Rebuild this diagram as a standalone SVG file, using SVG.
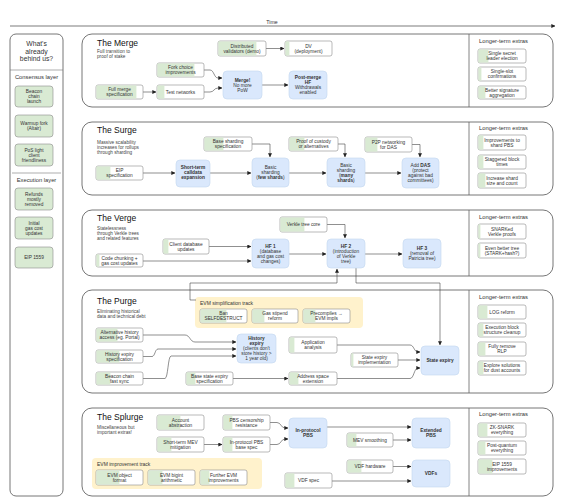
<svg xmlns="http://www.w3.org/2000/svg" width="570" height="503" viewBox="0 0 570 503">
<style>
text{font-family:"Liberation Sans",Arial,sans-serif;fill:#333}
.t{font-size:4.8px;text-anchor:middle}
.tb{font-size:4.8px;text-anchor:middle;font-weight:bold}
.ttl{font-size:8.5px;fill:#111}
.sub{font-size:4.7px;fill:#444}
.lte{font-size:5.8px;fill:#333}
.sec{fill:#fff;stroke:#666;stroke-width:0.9}
.b{fill:#fff;stroke:#8a8a8a;stroke-width:0.6}
.g{fill:#d9ead3}
.lb{fill:#d9ead3;stroke:#8a8a8a;stroke-width:0.6}
.bl{fill:#dae8fc;stroke:#c3d6ef;stroke-width:0.6}
.y{fill:#fff2cc}
.c{fill:none;stroke:#444;stroke-width:0.6;marker-end:url(#ah)}
</style>
<defs>
<marker id="ah" viewBox="0 0 6 6" refX="5.5" refY="3" markerWidth="4" markerHeight="4" orient="auto" markerUnits="userSpaceOnUse"><path d="M0,0 L6,3 L0,6 z" fill="#222"/></marker>
</defs>
<rect width="570" height="503" fill="#fff"/>

<g id="time">
<line x1="10" y1="26" x2="555" y2="26" stroke="#444" stroke-width="0.7" marker-end="url(#ah)"/>
<text x="272" y="23.5" style="font-size:5.2px;text-anchor:middle">Time</text>
</g>

<g id="behind">
<rect x="10" y="34" width="53" height="462" rx="6" class="sec"/>
<text x="36.5" y="46" style="font-size:6.8px;text-anchor:middle">What's</text>
<text x="36.5" y="53.5" style="font-size:6.8px;text-anchor:middle">already</text>
<text x="36.5" y="61" style="font-size:6.8px;text-anchor:middle">behind us?</text>
<line x1="10" y1="70" x2="63" y2="70" stroke="#777" stroke-width="0.6"/>
<text x="36.5" y="79" style="font-size:5.8px;text-anchor:middle">Consensus layer</text>
<line x1="12" y1="173" x2="61" y2="173" stroke="#777" stroke-width="0.6"/>
<text x="36.5" y="182" style="font-size:5.8px;text-anchor:middle">Execution layer</text>
</g>
<g id="beacon-launch"><rect x="15" y="86" width="38" height="21" rx="3" class="lb"/><text class="t" x="34" y="93.1">Beacon</text><text class="t" x="34" y="98.1">chain</text><text class="t" x="34" y="103.1">launch</text></g>
<g id="altair"><rect x="15" y="115" width="38" height="22" rx="3" class="lb"/><text class="t" x="34" y="125.1">Warmup fork</text><text class="t" x="34" y="130.1">(Altair)</text></g>
<g id="light-client"><rect x="15" y="144" width="38" height="22" rx="3" class="lb"/><text class="t" x="34" y="151.6">PoS light</text><text class="t" x="34" y="156.6">client</text><text class="t" x="34" y="161.6">friendliness</text></g>
<g id="refunds"><rect x="15" y="188" width="38" height="22" rx="3" class="lb"/><text class="t" x="34" y="195.6">Refunds</text><text class="t" x="34" y="200.6">mostly</text><text class="t" x="34" y="205.6">removed</text></g>
<g id="initial-gas"><rect x="15" y="217" width="38" height="22" rx="3" class="lb"/><text class="t" x="34" y="224.6">Initial</text><text class="t" x="34" y="229.6">gas cost</text><text class="t" x="34" y="234.6">updates</text></g>
<g id="eip1559"><rect x="15" y="247" width="38" height="21" rx="3" class="lb"/><text class="t" x="34" y="259.1">EIP 1559</text></g>

<g id="merge">
<rect x="82" y="34" width="471" height="73" rx="10" class="sec"/>
<line x1="469" y1="34" x2="469" y2="107" stroke="#666" stroke-width="0.8"/>
<text class="ttl" x="97" y="46">The Merge</text>
<text class="sub" x="97" y="53">Full transition to</text><text class="sub" x="97" y="58">proof of stake</text>
<text class="lte" x="479" y="43">Longer-term extras</text>
</g>
<g id="surge">
<rect x="82" y="122" width="471" height="73" rx="10" class="sec"/>
<line x1="469" y1="122" x2="469" y2="195" stroke="#666" stroke-width="0.8"/>
<text class="ttl" x="97" y="133">The Surge</text>
<text class="sub" x="97" y="143.6">Massive scalability</text><text class="sub" x="97" y="148.6">increases for rollups</text><text class="sub" x="97" y="153.6">through sharding</text>
<text class="lte" x="479" y="130">Longer-term extras</text>
</g>
<g id="verge">
<rect x="82" y="210" width="471" height="66" rx="10" class="sec"/>
<line x1="469" y1="210" x2="469" y2="276" stroke="#666" stroke-width="0.8"/>
<text class="ttl" x="97" y="221">The Verge</text>
<text class="sub" x="97" y="229.6">Statelessness</text><text class="sub" x="97" y="234.6">through Verkle trees</text><text class="sub" x="97" y="239.6">and related features</text>
<text class="lte" x="479" y="219">Longer-term extras</text>
</g>
<g id="purge">
<rect x="82" y="290" width="471" height="103" rx="10" class="sec"/>
<line x1="469" y1="290" x2="469" y2="393" stroke="#666" stroke-width="0.8"/>
<text class="ttl" x="97" y="304">The Purge</text>
<text class="sub" x="97" y="312.6">Eliminating historical</text><text class="sub" x="97" y="317.6">data and technical debt</text>
<text class="lte" x="479" y="299">Longer-term extras</text>
</g>
<g id="splurge">
<rect x="82" y="408" width="471" height="88" rx="10" class="sec"/>
<line x1="469" y1="408" x2="469" y2="496" stroke="#666" stroke-width="0.8"/>
<text class="ttl" x="97" y="420">The Splurge</text>
<text class="sub" x="97" y="428.6">Miscellaneous but</text><text class="sub" x="97" y="433.6">important extras!</text>
<text class="lte" x="479" y="416">Longer-term extras</text>
</g>

<g id="evm-simplification-track"><rect x="195" y="297" width="168" height="31" rx="4" class="y"/><text x="200" y="305" style="font-size:5px">EVM simplification track</text></g>
<g id="evm-improvement-track"><rect x="92" y="458" width="170" height="31" rx="4" class="y"/><text x="97" y="466" style="font-size:5px">EVM improvement track</text></g>

<g id="connectors">
<path class="c" d="M143,92 H156"/>
<path class="c" d="M204,70 H210 C214,70 214,78 218,78 H222"/>
<path class="c" d="M204,92 H210 C214,92 214,88 218,88 H222"/>
<path class="c" d="M266,48.5 H284"/>
<path class="c" d="M262,85 H288"/>
<path class="c" d="M143,173 H175"/>
<path class="c" d="M210,173 H251"/>
<path class="c" d="M289,173 H326"/>
<path class="c" d="M365,173 H401"/>
<path class="c" d="M252,144 H270 V157"/>
<path class="c" d="M338,144 H345 V157"/>
<path class="c" d="M412,144.5 H420 V157"/>
<path class="c" d="M209,246.5 H251"/>
<path class="c" d="M143,261 H251"/>
<path class="c" d="M289,254 H326"/>
<path class="c" d="M365,254 H402"/>
<path class="c" d="M327,224.5 H345 V238"/>
<path class="c" d="M196,300 H190 V283 H337 V269"/>
<path class="c" d="M356,268 V283 H440 V345"/>
<path class="c" d="M143,335 H185 C190,335 190,342 195,342 H236"/>
<path class="c" d="M143,356.5 H152 C155,356.5 155,349 158,349 H236"/>
<path class="c" d="M143,378.5 H165 C168,378.5 168,356 171,356 H236"/>
<path class="c" d="M233,378.5 H288"/>
<path class="c" d="M337,345 H410 C414,345 414,352 418,352 H420"/>
<path class="c" d="M398,360 H420"/>
<path class="c" d="M337,378.5 H410 C414,378.5 414,368 418,368 H420"/>
<path class="c" d="M204,444.5 H222"/>
<path class="c" d="M270,422.5 H277 C281,422.5 281,428 285,428 H288"/>
<path class="c" d="M270,444.5 H277 C281,444.5 281,439 285,439 H288"/>
<path class="c" d="M327,427 H411"/>
<path class="c" d="M393,440 H411"/>
<path class="c" d="M393,466.5 H411"/>
<path class="c" d="M332,481 H411"/>
</g>

<g id="fork-choice"><rect x="157" y="63" width="47" height="14" rx="2" class="b"/><rect x="157.4" y="63.4" width="37" height="13.2" class="g"/><text class="t" x="180.5" y="69.1">Fork choice</text><text class="t" x="180.5" y="74.1">improvements</text></g>
<g id="full-merge-spec"><rect x="96" y="85" width="47" height="14" rx="2" class="b"/><rect x="96.4" y="85.4" width="40" height="13.2" class="g"/><text class="t" x="119.5" y="91.1">Full merge</text><text class="t" x="119.5" y="96.1">specification</text></g>
<g id="test-networks"><rect x="157" y="85" width="47" height="14" rx="2" class="b"/><rect x="157.4" y="85.4" width="7" height="13.2" class="g"/><text class="t" x="180.5" y="93.6">Test networks</text></g>
<g id="dv-demo"><rect x="218" y="41" width="48" height="15" rx="2" class="b"/><rect x="218.4" y="41.4" width="38" height="14.2" class="g"/><text class="t" x="242" y="47.6">Distributed</text><text class="t" x="242" y="52.6">validators (demo)</text></g>
<g id="dv-deploy"><rect x="285" y="41" width="47" height="15" rx="2" class="b"/><rect x="285.4" y="41.4" width="4" height="14.2" class="g"/><text class="t" x="308.5" y="47.6">DV</text><text class="t" x="308.5" y="52.6">(deployment)</text></g>
<g id="merge-node"><rect x="223" y="71" width="39" height="28" rx="4" class="bl"/><text class="tb" x="242.5" y="81.6">Merge!</text><text class="t" x="242.5" y="86.6">No more</text><text class="t" x="242.5" y="91.6">PoW</text></g>
<g id="post-merge"><rect x="289" y="71" width="38" height="28" rx="4" class="bl"/><text class="tb" x="308" y="79.1">Post-merge</text><text class="tb" x="308" y="84.1">HF</text><text class="t" x="308" y="89.1">Withdrawals</text><text class="t" x="308" y="94.1">enabled</text></g>
<g id="ssle"><rect x="478" y="49" width="48" height="14" rx="2" class="b"/><rect x="478.4" y="49.4" width="10" height="13.2" class="g"/><text class="t" x="502" y="55.1">Single secret</text><text class="t" x="502" y="60.1">leader election</text></g>
<g id="ssf"><rect x="478" y="67" width="48" height="14" rx="2" class="b"/><rect x="478.4" y="67.4" width="3" height="13.2" class="g"/><text class="t" x="502" y="73.1">Single-slot</text><text class="t" x="502" y="78.1">confirmations</text></g>
<g id="sig-agg"><rect x="478" y="86" width="48" height="13" rx="2" class="b"/><rect x="478.4" y="86.4" width="7" height="12.2" class="g"/><text class="t" x="502" y="91.6">Better signature</text><text class="t" x="502" y="96.6">aggregation</text></g>

<g id="eip-spec"><rect x="96" y="166" width="47" height="14" rx="2" class="b"/><rect x="96.4" y="166.4" width="14" height="13.2" class="g"/><text class="t" x="119.5" y="172.1">EIP</text><text class="t" x="119.5" y="177.1">specification</text></g>
<g id="calldata"><rect x="176" y="160" width="34" height="27" rx="4" class="bl"/><text class="tb" x="193" y="169.1">Short-term</text><text class="tb" x="193" y="174.1">calldata</text><text class="tb" x="193" y="179.1">expansion</text></g>
<g id="base-sharding-spec"><rect x="204" y="137" width="48" height="14" rx="2" class="b"/><rect x="204.4" y="137.4" width="19" height="13.2" class="g"/><text class="t" x="228" y="143.1">Base sharding</text><text class="t" x="228" y="148.1">specification</text></g>
<g id="basic-few"><rect x="252" y="158" width="37" height="29" rx="4" class="bl"/><text class="t" x="270.5" y="169.1">Basic</text><text class="t" x="270.5" y="174.1">sharding</text><text class="t" x="270.5" y="179.1">(<tspan font-weight="bold">few shards</tspan>)</text></g>
<g id="custody"><rect x="289" y="137" width="49" height="14" rx="2" class="b"/><rect x="289.4" y="137.4" width="15" height="13.2" class="g"/><text class="t" x="313.5" y="143.1">Proof of custody</text><text class="t" x="313.5" y="148.1">or alternatives</text></g>
<g id="basic-many"><rect x="327" y="158" width="38" height="29" rx="4" class="bl"/><text class="t" x="346" y="166.6">Basic</text><text class="t" x="346" y="171.6">sharding</text><text class="t" x="346" y="176.6">(<tspan font-weight="bold">many</tspan></text><text class="tb" x="346" y="181.6">shards<tspan font-weight="normal">)</tspan></text></g>
<g id="p2p-das"><rect x="365" y="137" width="47" height="15" rx="2" class="b"/><rect x="365.4" y="137.4" width="12" height="14.2" class="g"/><text class="t" x="388.5" y="143.6">P2P networking</text><text class="t" x="388.5" y="148.6">for DAS</text></g>
<g id="add-das"><rect x="402" y="158" width="37" height="30" rx="4" class="bl"/><text class="t" x="420.5" y="167.1">Add <tspan font-weight="bold">DAS</tspan></text><text class="t" x="420.5" y="172.1">(protect</text><text class="t" x="420.5" y="177.1">against bad</text><text class="t" x="420.5" y="182.1">committees)</text></g>
<g id="shard-pbs"><rect x="478" y="135" width="48" height="15" rx="2" class="b"/><rect x="478.4" y="135.4" width="5" height="14.2" class="g"/><text class="t" x="502" y="141.6">Improvements to</text><text class="t" x="502" y="146.6">shard PBS</text></g>
<g id="staggered"><rect x="478" y="155" width="48" height="14" rx="2" class="b"/><rect x="478.4" y="155.4" width="5" height="13.2" class="g"/><text class="t" x="502" y="161.1">Staggered block</text><text class="t" x="502" y="166.1">times</text></g>
<g id="shard-size"><rect x="478" y="173" width="48" height="15" rx="2" class="b"/><rect x="478.4" y="173.4" width="7" height="14.2" class="g"/><text class="t" x="502" y="179.6">Increase shard</text><text class="t" x="502" y="184.6">size and count</text></g>

<g id="client-db"><rect x="163" y="239" width="46" height="15" rx="2" class="b"/><rect x="163.4" y="239.4" width="5" height="14.2" class="g"/><text class="t" x="186" y="245.6">Client database</text><text class="t" x="186" y="250.6">updates</text></g>
<g id="code-chunking"><rect x="96" y="254" width="47" height="13" rx="2" class="b"/><rect x="96.4" y="254.4" width="3" height="12.2" class="g"/><text class="t" x="119.5" y="259.6">Code chunking +</text><text class="t" x="119.5" y="264.6">gas cost updates</text></g>
<g id="hf1"><rect x="252" y="239" width="37" height="29" rx="4" class="bl"/><text class="tb" x="270.5" y="247.6">HF 1</text><text class="t" x="270.5" y="252.6">(database</text><text class="t" x="270.5" y="257.6">and gas cost</text><text class="t" x="270.5" y="262.6">changes)</text></g>
<g id="verkle-core"><rect x="280" y="217" width="47" height="15" rx="2" class="b"/><rect x="280.4" y="217.4" width="24" height="14.2" class="g"/><text class="t" x="303.5" y="226.1">Verkle tree core</text></g>
<g id="hf2"><rect x="327" y="239" width="38" height="29" rx="4" class="bl"/><text class="tb" x="346" y="247.6">HF 2</text><text class="t" x="346" y="252.6">(introduction</text><text class="t" x="346" y="257.6">of Verkle</text><text class="t" x="346" y="262.6">tree)</text></g>
<g id="hf3"><rect x="403" y="239" width="38" height="29" rx="4" class="bl"/><text class="tb" x="422" y="250.1">HF 3</text><text class="t" x="422" y="255.1">(removal of</text><text class="t" x="422" y="260.1">Patricia tree)</text></g>
<g id="snarked-verkle"><rect x="478" y="224" width="48" height="15" rx="2" class="b"/><rect x="478.4" y="224.4" width="2" height="14.2" class="g"/><text class="t" x="502" y="230.6">SNARKed</text><text class="t" x="502" y="235.6">Verkle proofs</text></g>
<g id="better-tree"><rect x="478" y="243" width="48" height="15" rx="2" class="b"/><rect x="478.4" y="243.4" width="2" height="14.2" class="g"/><text class="t" x="502" y="249.6">Even better tree</text><text class="t" x="502" y="254.6">(STARK+hash?)</text></g>

<g id="ban-selfdestruct"><rect x="200" y="309" width="47" height="14" rx="2" class="b"/><rect x="200.4" y="309.4" width="26" height="13.2" class="g"/><text class="t" x="223.5" y="315.1">Ban</text><text class="t" x="223.5" y="320.1">SELFDESTRUCT</text></g>
<g id="gas-stipend"><rect x="252" y="309" width="46" height="14" rx="2" class="b"/><rect x="252.4" y="309.4" width="12" height="13.2" class="g"/><text class="t" x="275" y="315.1">Gas stipend</text><text class="t" x="275" y="320.1">reform</text></g>
<g id="precompiles"><rect x="303" y="309" width="47" height="14" rx="2" class="b"/><rect x="303.4" y="309.4" width="12" height="13.2" class="g"/><text class="t" x="326.5" y="315.1">Precompiles →</text><text class="t" x="326.5" y="320.1">EVM impls</text></g>
<g id="alt-history"><rect x="96" y="328" width="47" height="14" rx="2" class="b"/><rect x="96.4" y="328.4" width="21" height="13.2" class="g"/><text class="t" x="119.5" y="334.1">Alternative history</text><text class="t" x="119.5" y="339.1">access (eg. Portal)</text></g>
<g id="history-spec"><rect x="96" y="350" width="47" height="13" rx="2" class="b"/><rect x="96.4" y="350.4" width="23" height="12.2" class="g"/><text class="t" x="119.5" y="355.6">History expiry</text><text class="t" x="119.5" y="360.6">specification</text></g>
<g id="fast-sync"><rect x="96" y="372" width="47" height="13" rx="2" class="b"/><rect x="96.4" y="372.4" width="14" height="12.2" class="g"/><text class="t" x="119.5" y="377.6">Beacon chain</text><text class="t" x="119.5" y="382.6">fast sync</text></g>
<g id="history-expiry"><rect x="237" y="334" width="39" height="29" rx="4" class="bl"/><text class="tb" x="256.5" y="340.1">History</text><text class="tb" x="256.5" y="345.1">expiry</text><text class="t" x="256.5" y="350.1">(clients don't</text><text class="t" x="256.5" y="355.1">store history &gt;</text><text class="t" x="256.5" y="360.1">1 year old)</text></g>
<g id="base-state-spec"><rect x="186" y="372" width="47" height="13" rx="2" class="b"/><rect x="186.4" y="372.4" width="9" height="12.2" class="g"/><text class="t" x="209.5" y="377.6">Base state expiry</text><text class="t" x="209.5" y="382.6">specification</text></g>
<g id="address-space"><rect x="289" y="372" width="48" height="13" rx="2" class="b"/><rect x="289.4" y="372.4" width="9" height="12.2" class="g"/><text class="t" x="313" y="377.6">Address space</text><text class="t" x="313" y="382.6">extension</text></g>
<g id="app-analysis"><rect x="289" y="337" width="48" height="16" rx="2" class="b"/><rect x="289.4" y="337.4" width="5" height="15.2" class="g"/><text class="t" x="313" y="344.1">Application</text><text class="t" x="313" y="349.1">analysis</text></g>
<g id="state-impl"><rect x="351" y="353" width="47" height="14" rx="2" class="b"/><rect x="351.4" y="353.4" width="2" height="13.2" class="g"/><text class="t" x="374.5" y="359.1">State expiry</text><text class="t" x="374.5" y="364.1">implementation</text></g>
<g id="state-expiry"><rect x="421" y="346" width="38" height="29" rx="4" class="bl"/><text class="tb" x="440" y="362.1">State expiry</text></g>
<g id="log-reform"><rect x="478" y="305" width="48" height="14" rx="2" class="b"/><rect x="478.4" y="305.4" width="9" height="13.2" class="g"/><text class="t" x="502" y="313.6">LOG reform</text></g>
<g id="block-cleanup"><rect x="478" y="323" width="48" height="14" rx="2" class="b"/><rect x="478.4" y="323.4" width="5" height="13.2" class="g"/><text class="t" x="502" y="329.1">Execution block</text><text class="t" x="502" y="334.1">structure cleanup</text></g>
<g id="remove-rlp"><rect x="478" y="342" width="48" height="14" rx="2" class="b"/><rect x="478.4" y="342.4" width="7" height="13.2" class="g"/><text class="t" x="502" y="348.1">Fully remove</text><text class="t" x="502" y="353.1">RLP</text></g>
<g id="dust"><rect x="478" y="361" width="48" height="14" rx="2" class="b"/><rect x="478.4" y="361.4" width="5" height="13.2" class="g"/><text class="t" x="502" y="367.1">Explore solutions</text><text class="t" x="502" y="372.1">for dust accounts</text></g>

<g id="account-abstraction"><rect x="157" y="415" width="47" height="15" rx="2" class="b"/><rect x="157.4" y="415.4" width="23" height="14.2" class="g"/><text class="t" x="180.5" y="421.6">Account</text><text class="t" x="180.5" y="426.6">abstraction</text></g>
<g id="mev-mitigation"><rect x="157" y="437" width="47" height="15" rx="2" class="b"/><rect x="157.4" y="437.4" width="14" height="14.2" class="g"/><text class="t" x="180.5" y="443.6">Short-term MEV</text><text class="t" x="180.5" y="448.6">mitigation</text></g>
<g id="pbs-censorship"><rect x="223" y="415" width="47" height="15" rx="2" class="b"/><rect x="223.4" y="415.4" width="9" height="14.2" class="g"/><text class="t" x="246.5" y="421.6">PBS censorship</text><text class="t" x="246.5" y="426.6">resistance</text></g>
<g id="pbs-base-spec"><rect x="223" y="437" width="47" height="15" rx="2" class="b"/><rect x="223.4" y="437.4" width="9" height="14.2" class="g"/><text class="t" x="246.5" y="443.6">In-protocol PBS</text><text class="t" x="246.5" y="448.6">base spec</text></g>
<g id="in-protocol-pbs"><rect x="289" y="418" width="38" height="30" rx="4" class="bl"/><text class="tb" x="308" y="431.6">In-protocol</text><text class="tb" x="308" y="436.6">PBS</text></g>
<g id="mev-smoothing"><rect x="347" y="433" width="46" height="14" rx="2" class="b"/><rect x="347.4" y="433.4" width="9" height="13.2" class="g"/><text class="t" x="370" y="441.6">MEV smoothing</text></g>
<g id="extended-pbs"><rect x="412" y="418" width="38" height="30" rx="4" class="bl"/><text class="tb" x="431" y="431.6">Extended</text><text class="tb" x="431" y="436.6">PBS</text></g>
<g id="vdf-hardware"><rect x="347" y="460" width="46" height="13" rx="2" class="b"/><rect x="347.4" y="460.4" width="14" height="12.2" class="g"/><text class="t" x="370" y="468.1">VDF hardware</text></g>
<g id="vdf-spec"><rect x="285" y="473" width="47" height="15" rx="2" class="b"/><rect x="285.4" y="473.4" width="9" height="14.2" class="g"/><text class="t" x="308.5" y="482.1">VDF spec</text></g>
<g id="vdfs"><rect x="412" y="460" width="38" height="27" rx="4" class="bl"/><text class="tb" x="431" y="475.1">VDFs</text></g>
<g id="eof"><rect x="96" y="470" width="47" height="15" rx="2" class="b"/><rect x="96.4" y="470.4" width="23" height="14.2" class="g"/><text class="t" x="119.5" y="476.6">EVM object</text><text class="t" x="119.5" y="481.6">format</text></g>
<g id="bigint"><rect x="148" y="470" width="47" height="15" rx="2" class="b"/><rect x="148.4" y="470.4" width="14" height="14.2" class="g"/><text class="t" x="171.5" y="476.6">EVM bigint</text><text class="t" x="171.5" y="481.6">arithmetic</text></g>
<g id="further-evm"><rect x="200" y="470" width="47" height="15" rx="2" class="b"/><rect x="200.4" y="470.4" width="9" height="14.2" class="g"/><text class="t" x="223.5" y="476.6">Further EVM</text><text class="t" x="223.5" y="481.6">improvements</text></g>
<g id="zk-everything"><rect x="478" y="423" width="48" height="14" rx="2" class="b"/><rect x="478.4" y="423.4" width="9" height="13.2" class="g"/><text class="t" x="502" y="429.1">ZK-SNARK</text><text class="t" x="502" y="434.1">everything</text></g>
<g id="post-quantum"><rect x="478" y="441" width="48" height="14" rx="2" class="b"/><rect x="478.4" y="441.4" width="7" height="13.2" class="g"/><text class="t" x="502" y="447.1">Post-quantum</text><text class="t" x="502" y="452.1">everything</text></g>
<g id="eip1559-improvements"><rect x="478" y="459" width="48" height="15" rx="2" class="b"/><rect x="478.4" y="459.4" width="14" height="14.2" class="g"/><text class="t" x="502" y="465.6">EIP 1559</text><text class="t" x="502" y="470.6">improvements</text></g>
</svg>
